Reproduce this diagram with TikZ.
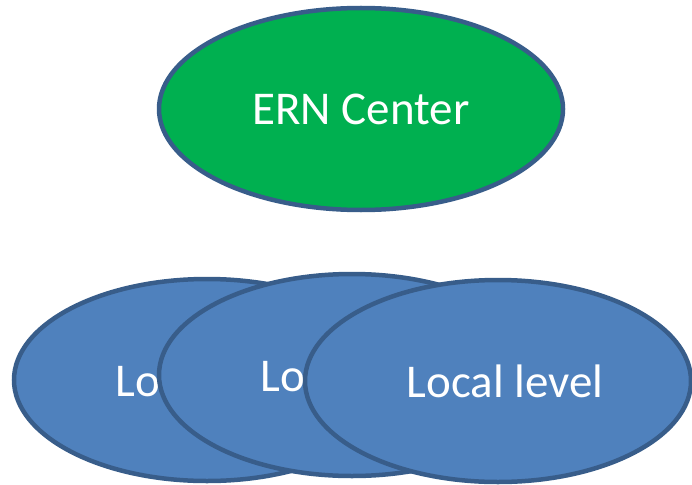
\documentclass[tikz,border=0pt]{standalone}
\usepackage{fontspec}
\setmainfont{Carlito}
\usepackage{tikz}
\usetikzlibrary{shapes.geometric}

\definecolor{erngreen}{HTML}{00B050}
\definecolor{locblue}{HTML}{4F81BD}
\definecolor{rim}{HTML}{385D8A}

\begin{document}
\begin{tikzpicture}[
		x=1pt, y=-1pt,
		oval/.style={ellipse, draw=rim, line width=4.5pt, inner sep=0pt, text=white,
			font=\fontsize{47}{56}\selectfont},
		ern/.style={oval, fill=erngreen, minimum width=404pt, minimum height=202pt},
		loc/.style={oval, fill=locblue, minimum width=386pt, minimum height=202pt}
	]
	\useasboundingbox (0,0) rectangle (692,484);
	\node[ern] (center) at (361,109) {ERN Center};
	% overlapping local levels, drawn left to right
	\node[loc] (loc1) at (207,380) {\hspace{14pt}Local level};
	\node[loc] (loc2) at (352,375) {\hspace{14pt}Local level};
	\node[loc] (loc3) at (498,381) {\hspace{14pt}Local level};
\end{tikzpicture}
\end{document}
